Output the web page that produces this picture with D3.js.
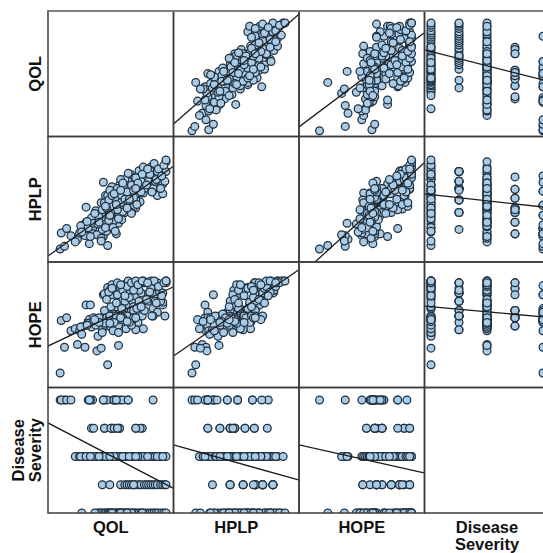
<!DOCTYPE html>
<html><head><meta charset="utf-8">
<script src="https://cdn.jsdelivr.net/npm/d3@7/dist/d3.min.js"></script>
<style>html,body{margin:0;padding:0;background:#fff;overflow:hidden}svg{display:block}</style>
</head><body><div id="c"></div>
<script>
const variables = ["QOL","HPLP","HOPE","Disease Severity"];
const qol = [2,6,3,8,12,28,32,42,51,55,58,65,88,45,60,30,53,42,52,65,29,54,
  31,43,50,57,72,78,50,43,57,49,33,52,76,72,55,
  18,25,36,56,16,20,22,26,28,31,33,35,38,40,40,42,44,45,46,47,48,49,50,51,52,53,54,56,57,58,59,60,61,62,63,65,66,67,68,69,70,72,74,76,78,80,83,86,88,90,94,97,100,92,79,21,27,26,30,97,
  41,48,58,62,64,66,68,70,72,75,77,80,82,84,86,88,90,92,95,97,99,100,
  46,22,37,40,38,41,43,44,46,47,48,49,50,51,53,54,55,56,57,58,59,60,62,63,65,66,68,70,71,73,75,77,79,82,85,87,89,91,93,96,98,100,
  47,50,55,60,64,68,72,58,45,49,54,62,70,74,78,83,44,52,60,66,58,48,64,72,38,34];
const hplp = [0,3,18,23,15,17,23,14,38,49,38,65,82,23,49,17,65,75,27,49,6,17,
  17,30,41,46,57,67,30,41,57,46,17,67,81,46,41,
  11,15,16,29,8,18,26,30,24,35,29,43,28,12,52,36,60,20,44,35,25,52,70,58,32,45,62,40,72,55,33,67,44,78,58,52,62,84,41,70,47,76,63,53,66,85,74,92,68,80,88,73,98,60,63,26,31,47,14,62,
  22,41,55,41,55,68,41,68,55,76,76,68,87,76,87,68,76,87,68,87,76,87,
  4,19,28,9,36,44,52,24,60,32,66,38,48,24,20,56,68,34,46,78,60,42,72,52,85,66,40,58,80,50,88,64,92,72,84,64,96,78,90,82,94,100,
  55,60,44,50,64,72,80,52,46,40,50,56,66,74,84,90,48,62,74,56,66,38,46,68,30,40];
const hope = [0,28,57,60,46,56,58,60,62,64,66,70,95,85,55,57,68,85,56,60,58,66,
  51,60,68,60,92,98,62,68,68,51,60,92,98,68,60,
  31,28,24,30,48,46,50,52,54,50,56,52,56,56,58,53,56,60,55,58,62,55,85,62,58,90,72,52,94,60,64,80,66,96,58,70,74,92,68,78,72,84,55,64,62,98,78,100,70,86,88,74,100,66,48,50,52,74,74,77,
  47,62,62,78,62,87,55,68,47,78,87,68,98,87,92,62,78,98,78,87,62,98,
  9,42,40,27,60,44,86,52,93,56,90,50,96,46,58,62,98,44,58,92,70,60,96,48,100,82,52,60,94,70,90,72,100,80,88,62,100,76,94,84,98,100,
  88,92,85,90,94,98,100,96,80,72,76,84,90,96,100,98,54,55,58,55,60,54,56,60,55,58];
const severity = [5,5,5,5,5,5,5,5,5,5,5,5,5,5,5,5,5,5,5,5,5,5,
  4,4,4,4,4,4,4,4,4,4,4,4,4,4,4,
  3,3,3,3,3,3,3,3,3,3,3,3,3,3,3,3,3,3,3,3,3,3,3,3,3,3,3,3,3,3,3,3,3,3,3,3,3,3,3,3,3,3,3,3,3,3,3,3,3,3,3,3,3,3,3,3,3,3,3,3,
  2,2,2,2,2,2,2,2,2,2,2,2,2,2,2,2,2,2,2,2,2,2,
  1,1,1,1,1,1,1,1,1,1,1,1,1,1,1,1,1,1,1,1,1,1,1,1,1,1,1,1,1,1,1,1,1,1,1,1,1,1,1,1,1,1,
  3,1,4,3,3,1,3,3,3,3,3,1,2,3,1,3,3,3,3,3,1,3,1,3,3,1];
const columns = [qol,hplp,hope,severity];
// Fit lines, "row|column": [x at start, y at start, x at end, y at end], in data units
const fitLines = {
  "0|1":[-19.9,8.2,115,108], "0|2":[-22.3,5.5,113.6,90.9], "0|3":[0.77,75.5,5,48.2],
  "1|0":[-9.3,-7.9,106.5,92.7], "1|2":[-4.9,-14.6,113.6,96.6], "1|3":[0.77,62,5,47.2],
  "2|0":[-9.3,29.3,106.5,93.5], "2|1":[-19.9,18.5,114.5,112], "2|3":[0.77,72.8,5,60.9],
  "3|0":[-9.3,4.19,106.5,1.88], "3|1":[-19.9,3.41,114.5,2.17], "3|2":[-22.3,3.41,113.6,2.42]
};
const W=543,H=553, originX=48, originY=11, cell=125.5;
const xScales=[
  d3.scaleLinear().domain([0,100]).range([10,118]),
  d3.scaleLinear().domain([0,100]).range([18.5,111.5]),
  d3.scaleLinear().domain([0,100]).range([20.5,112.5]),
  d3.scaleLinear().domain([1,5]).range([6.5,118.5])];
const yScales=[
  d3.scaleLinear().domain([0,100]).range([122,12]),
  d3.scaleLinear().domain([0,100]).range([112.5,23.5]),
  d3.scaleLinear().domain([0,100]).range([111,19]),
  d3.scaleLinear().domain([1,5]).range([125.5,12.5])];
const svg=d3.select("#c").append("svg").attr("width",W).attr("height",H)
  .style("font-family","'Liberation Sans',Arial,sans-serif");
svg.append("defs").append("clipPath").attr("id","cell").append("rect").attr("width",cell).attr("height",cell);

for(let r=0;r<4;r++)for(let c=0;c<4;c++){
  const g=svg.append("g").attr("transform",`translate(${originX+c*cell},${originY+r*cell})`);
  const body=g.append("g").attr("clip-path","url(#cell)");
  if(r!==c){
    const pts=d3.range(qol.length).map(i=>[columns[c][i],columns[r][i]]);
    body.selectAll("circle").data(pts).join("circle")
      .attr("cx",d=>xScales[c](d[0])).attr("cy",d=>yScales[r](d[1])).attr("r",3.9)
      .attr("fill","#a9cbe6").attr("stroke","#20303f").attr("stroke-width",1.25);
    const f=fitLines[r+"|"+c];
    body.append("line").attr("x1",xScales[c](f[0])).attr("y1",yScales[r](f[1]))
      .attr("x2",xScales[c](f[2])).attr("y2",yScales[r](f[3]))
      .attr("stroke","#1c1c1c").attr("stroke-width",1.3);
  }
  g.append("rect").attr("width",cell).attr("height",cell).attr("fill","none")
    .attr("stroke","#3c3c3c").attr("stroke-width",1.5);
}
svg.append("line").attr("x1",originX).attr("x2",W).attr("y1",originY).attr("y2",originY)
  .attr("stroke","#8a8a8a").attr("stroke-width",1.5);

function label(x,y,lines,rot){
  const t=svg.append("g").attr("transform",`translate(${x},${y})${rot?" rotate(-90)":""}`);
  lines.forEach((s,i)=>t.append("text").attr("y",(i-(lines.length-1)/2)*17).attr("dy","0.36em")
    .attr("text-anchor","middle").attr("font-weight","bold").attr("font-size",16.5)
    .attr("fill","#111").text(s));
}
variables.forEach((v,i)=>{
  const lines=v.split(" "), two=lines.length>1;
  label(two?26.5:35,originY+(i+.5)*cell,lines,true);
  label(i===3?487:originX+(i+.5)*cell,two?535.5:527,lines,false);
});
</script></body></html>
